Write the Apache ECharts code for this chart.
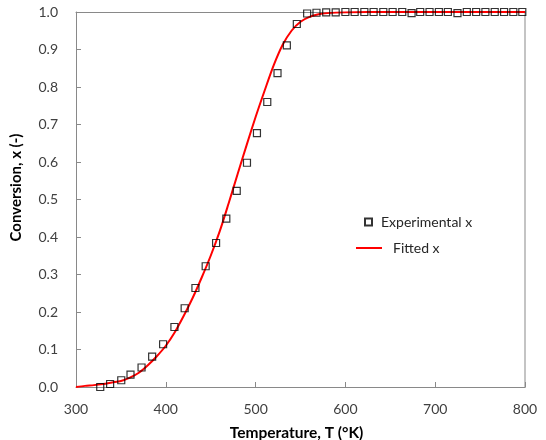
<!DOCTYPE html>
<html>
<head>
<meta charset="utf-8">
<script src="https://cdn.jsdelivr.net/npm/echarts@6/dist/echarts.min.js"></script>
<style>
html,body{margin:0;padding:0;background:#fff;}
#chart{width:546px;height:440px;}
</style>
</head>
<body>
<div id="chart"></div>
<script>
// Experimental data
var expT = [327, 338, 350.4, 360.7, 373, 384.8, 397, 409.6, 421, 433, 444.4, 456, 467.4, 479, 490.4, 501.5, 513, 524.4, 534.8, 545.9, 557.4, 567.8, 578.6, 589.2, 600, 610.3, 621.1, 631.4, 642.2, 652.6, 663.3, 673.7, 683.3, 693.7, 704.1, 714.1, 724.8, 735.2, 745.6, 755.9, 766.3, 776.7, 787, 797];
var expX = [0.0, 0.008, 0.018, 0.033, 0.052, 0.081, 0.114, 0.16, 0.21, 0.264, 0.322, 0.384, 0.449, 0.523, 0.598, 0.677, 0.76, 0.837, 0.911, 0.968, 0.996, 0.998, 0.999, 0.999, 1.0, 1.0, 1.0, 1.0, 1.0, 1.0, 1.0, 0.997, 1.0, 1.0, 1.0, 1.0, 0.997, 1.0, 1.0, 1.0, 1.0, 1.0, 1.0, 1.0];
// Fitted curve
var fitT = [300, 310, 320, 330, 340, 350, 360, 370, 380, 390, 400, 410, 420, 430, 440, 450, 460, 470, 480, 490, 500, 510, 520, 530, 540, 550, 560, 570, 580, 600, 650, 700, 800];
var fitX = [0.0, 0.003, 0.005, 0.008, 0.012, 0.016, 0.025, 0.038, 0.058, 0.082, 0.110, 0.146, 0.190, 0.238, 0.292, 0.350, 0.415, 0.49, 0.568, 0.645, 0.72, 0.79, 0.857, 0.912, 0.95, 0.974, 0.987, 0.994, 0.997, 0.999, 1.0, 1.0, 1.0];
// Axis ticks
var xTicks = {min: 300, max: 800, interval: 100};
var yTicks = {min: 0, max: 1, interval: 0.1};

var fontFam = 'Lato, "Open Sans", sans-serif';
var chart = echarts.init(document.getElementById('chart'), null, {renderer: 'canvas'});
var expData = expT.map(function (t, i) { return [t, expX[i]]; });
var fitData = fitT.map(function (t, i) { return [t, fitX[i]]; });

chart.setOption({
  animation: false,
  backgroundColor: '#ffffff',
  grid: {left: 76, right: 21, top: 12, bottom: 53, containLabel: false, outerBoundsMode: 'none'},
  legend: [
    {
      data: [{name: 'Experimental x', icon: 'rect'}],
      left: 359, top: 210,
      itemWidth: 7, itemHeight: 7,
      textStyle: {fontFamily: fontFam, fontSize: 14, color: '#262626', padding: [0, 0, 0, 4]}
    },
    {
      data: [{name: 'Fitted x', icon: 'path://M0,0 L26,0 L26,2 L0,2 Z', itemStyle: {color: '#ff0000'}}],
      left: 351, top: 236,
      itemWidth: 26, itemHeight: 2,
      textStyle: {fontFamily: fontFam, fontSize: 14, color: '#262626', padding: [0, 0, 0, 6]}
    }
  ],
  xAxis: [
    {
      type: 'value', min: xTicks.min, max: xTicks.max, interval: xTicks.interval,
      name: 'Temperature, T (°K)', nameLocation: 'middle', nameGap: 38,
      nameTextStyle: {fontFamily: fontFam, fontSize: 15.5, fontWeight: 'bold', color: '#000', padding: [0, 8, 0, 0]},
      axisLine: {show: true, lineStyle: {color: '#898989', width: 1}},
      axisTick: {show: true, inside: true, length: 5, lineStyle: {color: '#898989'}},
      axisLabel: {fontFamily: fontFam, fontSize: 14, color: '#404040', margin: 15},
      splitLine: {show: false}
    },
    {
      type: 'value', position: 'top', min: xTicks.min, max: xTicks.max,
      axisLine: {show: true, onZero: false, lineStyle: {color: '#898989', width: 1}},
      axisTick: {show: false}, axisLabel: {show: false}, splitLine: {show: false}
    }
  ],
  yAxis: [
    {
      type: 'value', min: yTicks.min, max: yTicks.max, interval: yTicks.interval,
      name: 'Conversion, x (-)', nameLocation: 'middle', nameGap: 52,
      nameTextStyle: {fontFamily: fontFam, fontSize: 15, fontWeight: 'bold', color: '#000', padding: [0, 0, 0, 24]},
      axisLine: {show: true, lineStyle: {color: '#898989', width: 1}},
      axisTick: {show: true, inside: true, length: 5, lineStyle: {color: '#898989'}},
      axisLabel: {fontFamily: fontFam, fontSize: 14, color: '#404040', margin: 18,
        formatter: function (v) { return v.toFixed(1); }},
      splitLine: {show: false}
    },
    {
      type: 'value', position: 'right', min: yTicks.min, max: yTicks.max,
      axisLine: {show: true, onZero: false, lineStyle: {color: '#c4c4c4', width: 2}},
      axisTick: {show: false}, axisLabel: {show: false}, splitLine: {show: false}
    }
  ],
  series: [
    {
      name: 'Fitted x', type: 'line', data: fitData, showSymbol: false, symbol: 'none',
      smooth: 0.3,
      lineStyle: {color: '#ff0000', width: 2},
      itemStyle: {color: '#ff0000'},
      z: 2
    },
    {
      name: 'Experimental x', type: 'scatter', data: expData,
      symbol: 'rect', symbolSize: 7,
      itemStyle: {color: 'rgba(255,255,255,0)', borderColor: '#000', borderWidth: 1.2},
      z: 3
    }
  ]
});
</script>
</body>
</html>
